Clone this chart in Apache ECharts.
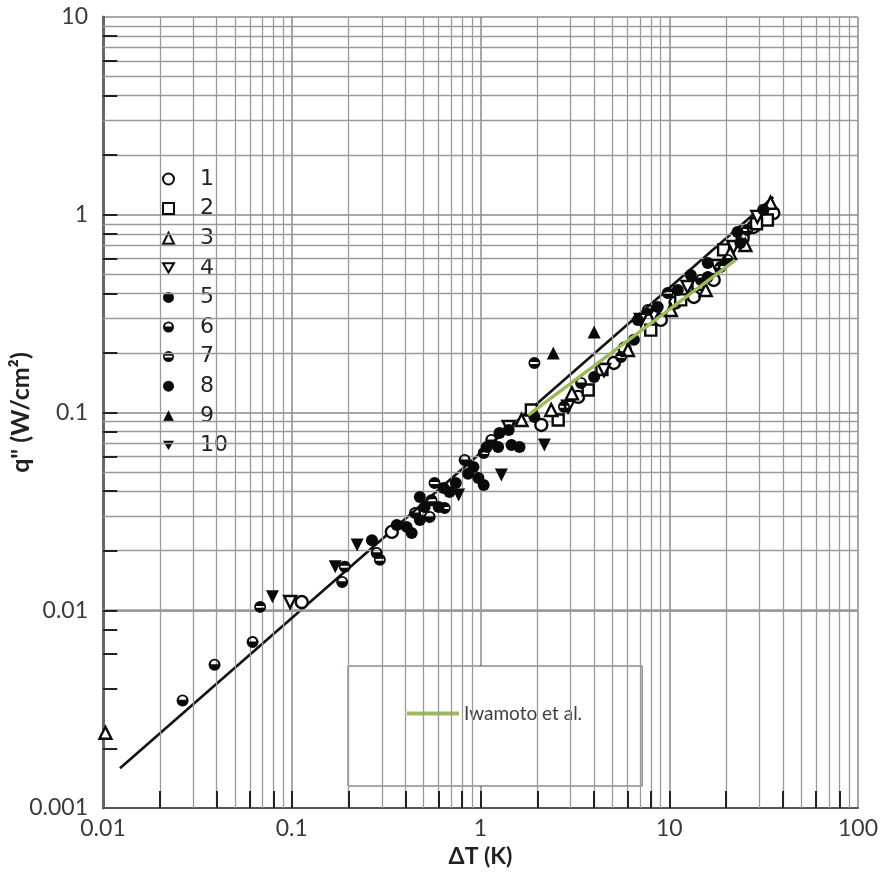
<!DOCTYPE html>
<html><head><meta charset="utf-8">
<script src="https://cdn.jsdelivr.net/npm/echarts@6/dist/echarts.min.js"></script>
<style>html,body{margin:0;padding:0;background:#fff}#c{width:881px;height:885px}</style>
</head><body><div id="c"></div>
<script>
// ---- tick labels / grid values ----
const xTickLabels = ['0.01', '0.1', '1', '10', '100'];
const yTickLabels = ['0.001', '0.01', '0.1', '1', '10'];
const minorX = [0.02,0.03,0.04,0.05,0.06,0.07,0.08,0.09,0.2,0.3,0.4,0.5,0.6,0.7,0.8,0.9,2,3,4,5,6,7,8,9,20,30,40,50,60,70,80,90];
const minorY = [0.002,0.003,0.004,0.005,0.006,0.007,0.008,0.009,0.02,0.03,0.04,0.05,0.06,0.07,0.08,0.09,0.2,0.3,0.4,0.5,0.6,0.7,0.8,0.9,2,3,4,5,6,7,8,9];
const tickMarksX = [0.02,0.04,0.06,0.08,0.1,0.2,0.4,0.6,0.8,1,2,4,6,8,10,20,40,60,80];
const tickMarksY = [0.002,0.004,0.006,0.008,0.01,0.02,0.04,0.06,0.08,0.1,0.2,0.4,0.6,0.8,1,2,4,6,8];

// ---- data series: [ΔT (K), q'' (W/cm2)] ----
const s1 = [[0.113,0.011],[0.339,0.0249],[2.10,0.0865],[3.29,0.120],[5.09,0.178],[9.02,0.294],[13.5,0.384],[17.2,0.468],[27.9,0.867],[35.6,1.02],[5.8,0.21],[10.8,0.36],[24.5,0.76]];
const s2 = [[1.86,0.103],[2.58,0.0916],[3.72,0.130],[7.98,0.261],[11.5,0.371],[19.4,0.664],[33.1,0.940],[4.4,0.165],[14.2,0.445],[29.0,0.90]];
const s3 = [[0.0103,0.0024],[1.65,0.0916],[2.37,0.103],[6.04,0.207],[10.2,0.330],[15.6,0.416],[25.3,0.703],[34.4,1.15],[3.05,0.125],[21.0,0.64]];
const s4 = [[0.098,0.011],[1.41,0.0845],[2.91,0.107],[4.51,0.164],[7.08,0.294],[12.5,0.431],[21.9,0.687],[29.3,0.975],[8.3,0.31],[17.8,0.55]];
const s5 = [[0.266,0.0226],[0.406,0.0264],[0.432,0.0246],[0.506,0.0333],[0.638,0.0415],[0.918,0.0530],[1.08,0.0669],[1.24,0.067],[1.41,0.0816],[1.46,0.0685],[1.61,0.0669],[6.50,0.233],[11.1,0.416],[16.0,0.570],[23.8,0.720],[31.5,1.06],[0.36,0.027],[0.74,0.044]];
const s6 = [[0.0264,0.0035],[0.039,0.0053],[0.062,0.0069],[0.185,0.0139],[0.282,0.0195],[0.538,0.0296],[0.824,0.0575],[1.14,0.0726],[3.41,0.141],[7.70,0.330],[14.7,0.468],[20.4,0.590],[0.45,0.031]];
const s7 = [[0.068,0.0104],[0.191,0.0166],[0.293,0.0180],[0.571,0.0440],[0.646,0.0329],[1.04,0.0624],[1.93,0.178],[2.77,0.107],[5.55,0.191],[9.82,0.402],[18.7,0.544],[25.9,0.837],[0.55,0.036]];
const s8 = [[0.477,0.0286],[0.477,0.0374],[0.600,0.0333],[0.685,0.0396],[0.975,0.0467],[1.04,0.043],[1.26,0.0787],[1.93,0.0948],[4.00,0.151],[6.82,0.294],[8.69,0.342],[13.0,0.496],[16.0,0.484],[23.0,0.818],[0.86,0.049]];
const s9 = [[2.43,0.200],[4.00,0.255]];
const s10 = [[0.079,0.0117],[0.170,0.0166],[0.222,0.0214],[0.766,0.0383],[1.29,0.0483],[2.18,0.0685]];
const fitLine = [[0.0123,0.00159],[35.6,1.23]];
const iwamoto = [[1.79,0.097],[22.4,0.59]];

const seriesNames = ['1','2','3','4','5','6','7','8','9','10'];
const seriesData = [s1,s2,s3,s4,s5,s6,s7,s8,s9,s10];

const halfCircle = 'path://M0,-10A10,10 0 1,1 0,10A10,10 0 1,1 0,-10Z M6,-1A6,6 0 0,0 -6,-1Z';
const barCircle = 'path://M0,-10A10,10 0 1,1 0,10A10,10 0 1,1 0,-10Z M-7,-1.6L-7,1.6L7,1.6L7,-1.6Z';
const downTri = 'path://M-10,-8L10,-8L0,9Z';
const styles = [
  {symbol:'circle', open:true, size:12},
  {symbol:'rect', open:true, size:11},
  {symbol:'triangle', open:true, size:12},
  {symbol:downTri, open:true, size:12},
  {symbol:'circle', size:12},
  {symbol:halfCircle, size:12},
  {symbol:barCircle, size:12},
  {symbol:'circle', size:12},
  {symbol:'triangle', size:13},
  {symbol:downTri, size:13}
];

const chart = echarts.init(document.getElementById('c'), null, {renderer:'canvas'});
const FONT = 'Lato';
const labelColor = '#3a3a3a';

const series = [];
// minor grid lines
series.push({
  type:'line', data:[], silent:true, z:1,
  markLine:{
    silent:true, symbol:['none','none'], animation:false, label:{show:false},
    lineStyle:{color:'#9a9a9a', width:1.3, type:'solid'},
    emphasis:{disabled:true},
    data: minorX.map(v => ({xAxis:v})).concat(minorY.map(v => ({yAxis:v})))
  }
});
// tick marks (scanned-style inner ticks)
series.push({
  type:'line', data:[], silent:true, z:2,
  markLine:{
    silent:true, symbol:['none','none'], animation:false, label:{show:false},
    lineStyle:{color:'#222', width:2, type:'solid'},
    emphasis:{disabled:true},
    data: tickMarksX.map(v => [{coord:[v,0.001]},{coord:[v,0.00122]}])
      .concat(tickMarksY.map(v => [{coord:[0.01,v]},{coord:[0.0119,v]}]))
  }
});
// black fitted line
series.push({
  name:'fit', type:'line', data:fitLine, symbol:'none', z:3, silent:true,
  lineStyle:{color:'#111', width:2.6}
});
seriesNames.forEach((n,i) => {
  const st = styles[i];
  series.push({
    name:n, type:'scatter', data:seriesData[i], z:5,
    symbol:st.symbol, symbolSize:st.size,
    itemStyle: st.open ? {color:'#fff', borderColor:'#0a0a0a', borderWidth:2.4, opacity:1}
                       : {color:'#0a0a0a', borderWidth:0, opacity:1}
  });
});
series.push({
  name:'Iwamoto et al.', type:'line', data:iwamoto, symbol:'none', z:8,
  lineStyle:{color:'#9bbb59', width:3.4}, itemStyle:{color:'#9bbb59'}
});

chart.setOption({
  animation:false,
  backgroundColor:'#fff',
  grid:{left:103, right:23, top:17, bottom:77, containLabel:false, outerBoundsMode:'none'},
  xAxis:{
    type:'log', logBase:10, min:0.01, max:100,
    name:'ΔT (K)', nameLocation:'middle', nameGap:37, nameMoveOverlap:false,
    nameTextStyle:{fontFamily:FONT, fontSize:23, fontWeight:'bold', color:'#222'},
    axisLine:{show:true, lineStyle:{color:'#555', width:2}},
    axisTick:{show:false},
    axisLabel:{fontFamily:FONT, fontSize:23, color:labelColor, margin:9,
      formatter:(v) => { const k = Math.round(Math.log10(v)) + 2; return xTickLabels[k] || ''; }},
    splitLine:{show:true, lineStyle:{color:'#8a8a8a', width:1.5}}
  },
  yAxis:{
    type:'log', logBase:10, min:0.001, max:10,
    name:'q" (W/cm²)', nameLocation:'middle', nameGap:70, nameRotate:90, nameMoveOverlap:false,
    nameTextStyle:{fontFamily:FONT, fontSize:25, fontWeight:'bold', color:'#222'},
    axisLine:{show:true, lineStyle:{color:'#666', width:3}},
    axisTick:{show:false},
    axisLabel:{fontFamily:FONT, fontSize:23, color:labelColor, margin:15,
      formatter:(v) => { const k = Math.round(Math.log10(v)) + 3; return yTickLabels[k] || ''; }},
    splitLine:{show:true, lineStyle:{color:'#8a8a8a', width:1.5}}
  },
  legend:[
    {
      data:seriesNames, orient:'vertical', left:157, top:163,
      itemWidth:11, itemHeight:11, itemGap:7.6, selectedMode:false,
      textStyle:{fontFamily:'DejaVu Sans', fontSize:22, color:'#222', lineHeight:21, padding:[0,0,0,21]}
    },
    {
      data:[{name:'Iwamoto et al.', icon:'rect'}], left:348, top:666, selectedMode:false,
      itemWidth:52, itemHeight:4,
      padding:[38, 60, 63, 59], borderColor:'#44546a', borderWidth:1, backgroundColor:'#fff',
      textStyle:{fontFamily:FONT, fontSize:19, color:'#404040'}
    }
  ],
  series: series
});
</script></body></html>
